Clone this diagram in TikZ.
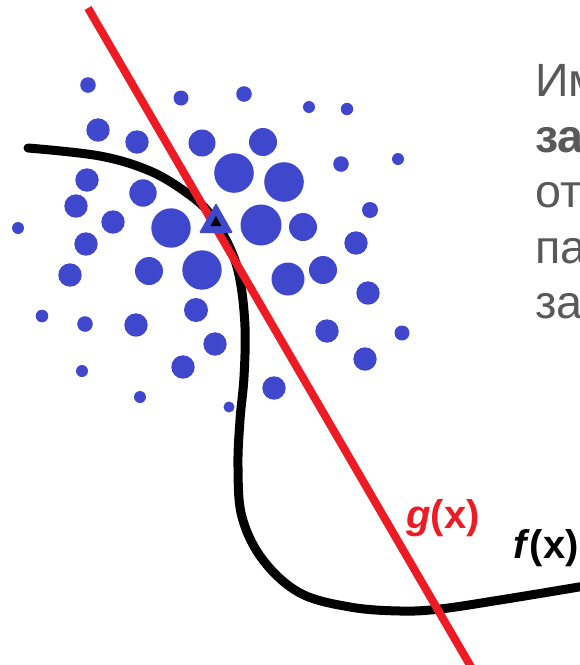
\documentclass[tikz,border=0pt]{standalone}
\usepackage{fontspec}
\setmainfont{Liberation Sans}
\definecolor{dotblue}{HTML}{3F48CC}
\definecolor{gred}{HTML}{ED1C24}
\definecolor{txtgray}{HTML}{595959}

\begin{document}
\begin{tikzpicture}[x=0.75pt, y=-0.75pt, font=\fontsize{35}{42}\selectfont]
\useasboundingbox (0,0) rectangle (580,665); \clip (0,0) rectangle (580,665);
% sample points
\fill[dotblue] (88,85) circle (7.8*0.75pt); \fill[dotblue] (181,98) circle (7.5*0.75pt); \fill[dotblue] (244,94) circle (7.8*0.75pt); \fill[dotblue] (309,107) circle (6*0.75pt); \fill[dotblue] (347,109) circle (6.2*0.75pt);
\fill[dotblue] (98,130) circle (11.7*0.75pt); \fill[dotblue] (137,142) circle (11.7*0.75pt); \fill[dotblue] (202,143) circle (13.5*0.75pt); \fill[dotblue] (263,142) circle (14*0.75pt); \fill[dotblue] (234,173) circle (19.8*0.75pt);
\fill[dotblue] (284,182) circle (19.8*0.75pt); \fill[dotblue] (341,164) circle (7.8*0.75pt); \fill[dotblue] (398,159) circle (6*0.75pt); \fill[dotblue] (87,180) circle (11.7*0.75pt); \fill[dotblue] (143,193) circle (13.7*0.75pt);
\fill[dotblue] (76,206) circle (11.7*0.75pt); \fill[dotblue] (113,222) circle (11.7*0.75pt); \fill[dotblue] (171,228) circle (19.7*0.75pt); \fill[dotblue] (261,225) circle (20.5*0.75pt); \fill[dotblue] (303,227) circle (14*0.75pt);
\fill[dotblue] (370,210) circle (8*0.75pt); \fill[dotblue] (18,228) circle (6*0.75pt); \fill[dotblue] (86,244) circle (11.7*0.75pt); \fill[dotblue] (356,243) circle (11.7*0.75pt); \fill[dotblue] (70,275) circle (11.7*0.75pt);
\fill[dotblue] (149,271) circle (14*0.75pt); \fill[dotblue] (202,270) circle (19.7*0.75pt); \fill[dotblue] (288,279) circle (16.5*0.75pt); \fill[dotblue] (323,270) circle (14*0.75pt); \fill[dotblue] (368,293) circle (11.7*0.75pt);
\fill[dotblue] (42,316) circle (6.3*0.75pt); \fill[dotblue] (85,324) circle (7.8*0.75pt); \fill[dotblue] (136,325) circle (11.7*0.75pt); \fill[dotblue] (196,310) circle (12*0.75pt); \fill[dotblue] (215,344) circle (11.7*0.75pt);
\fill[dotblue] (327,331) circle (11.7*0.75pt); \fill[dotblue] (402,333) circle (7.5*0.75pt); \fill[dotblue] (82,371) circle (6*0.75pt); \fill[dotblue] (183,367) circle (11.7*0.75pt); \fill[dotblue] (365,359) circle (11.7*0.75pt);
\fill[dotblue] (140,397) circle (6*0.75pt); \fill[dotblue] (274,388) circle (11.7*0.75pt); \fill[dotblue] (229,407) circle (5.5*0.75pt);
% f(x) and g(x)
\draw[line width=6.75pt, line cap=round] plot[smooth, tension=0.6] coordinates {(28,148) (100,156) (150,171) (187,193) (210,214) (230,248) (240,280) (245,327) (244,377) (240,420) (238,467) (242,517) (263,560) (300,593) (350,607) (400,611) (440,609) (500,600) (585,586)};
\coordinate (G1) at (88,8); \coordinate (G2) at (474,672); \draw[line width=6pt, gred] (G1) -- (G2);
\coordinate (T) at (216,222); \fill[dotblue, rounded corners=1pt] (216,203) -- (233,233) -- (199,233) -- cycle; \fill[black] (216,216) -- (221.5,226) -- (210.5,226) -- cycle;
\node[anchor=base west, inner sep=0pt, text=gred, font=\fontsize{30}{36}\selectfont\bfseries] (glabel) at (406,528) {\textit{g}(x)};
\node[anchor=base west, inner sep=0pt, font=\fontsize{30}{36}\selectfont\bfseries] (flabel) at (513,558) {\textit{f}(x)};
% task text, cut at the right edge
\node[anchor=base west, inner sep=0pt, text=txtgray] (line1) at (535,96) {Им}; \node[anchor=base west, inner sep=0pt, text=txtgray, font=\fontsize{35}{42}\selectfont\bfseries] (line2) at (535,152) {за};
\node[anchor=base west, inner sep=0pt, text=txtgray] (line3) at (535,207) {от}; \node[anchor=base west, inner sep=0pt, text=txtgray] (line4) at (535,263) {па}; \node[anchor=base west, inner sep=0pt, text=txtgray] (line5) at (535,318) {за};
\end{tikzpicture}
\end{document}
